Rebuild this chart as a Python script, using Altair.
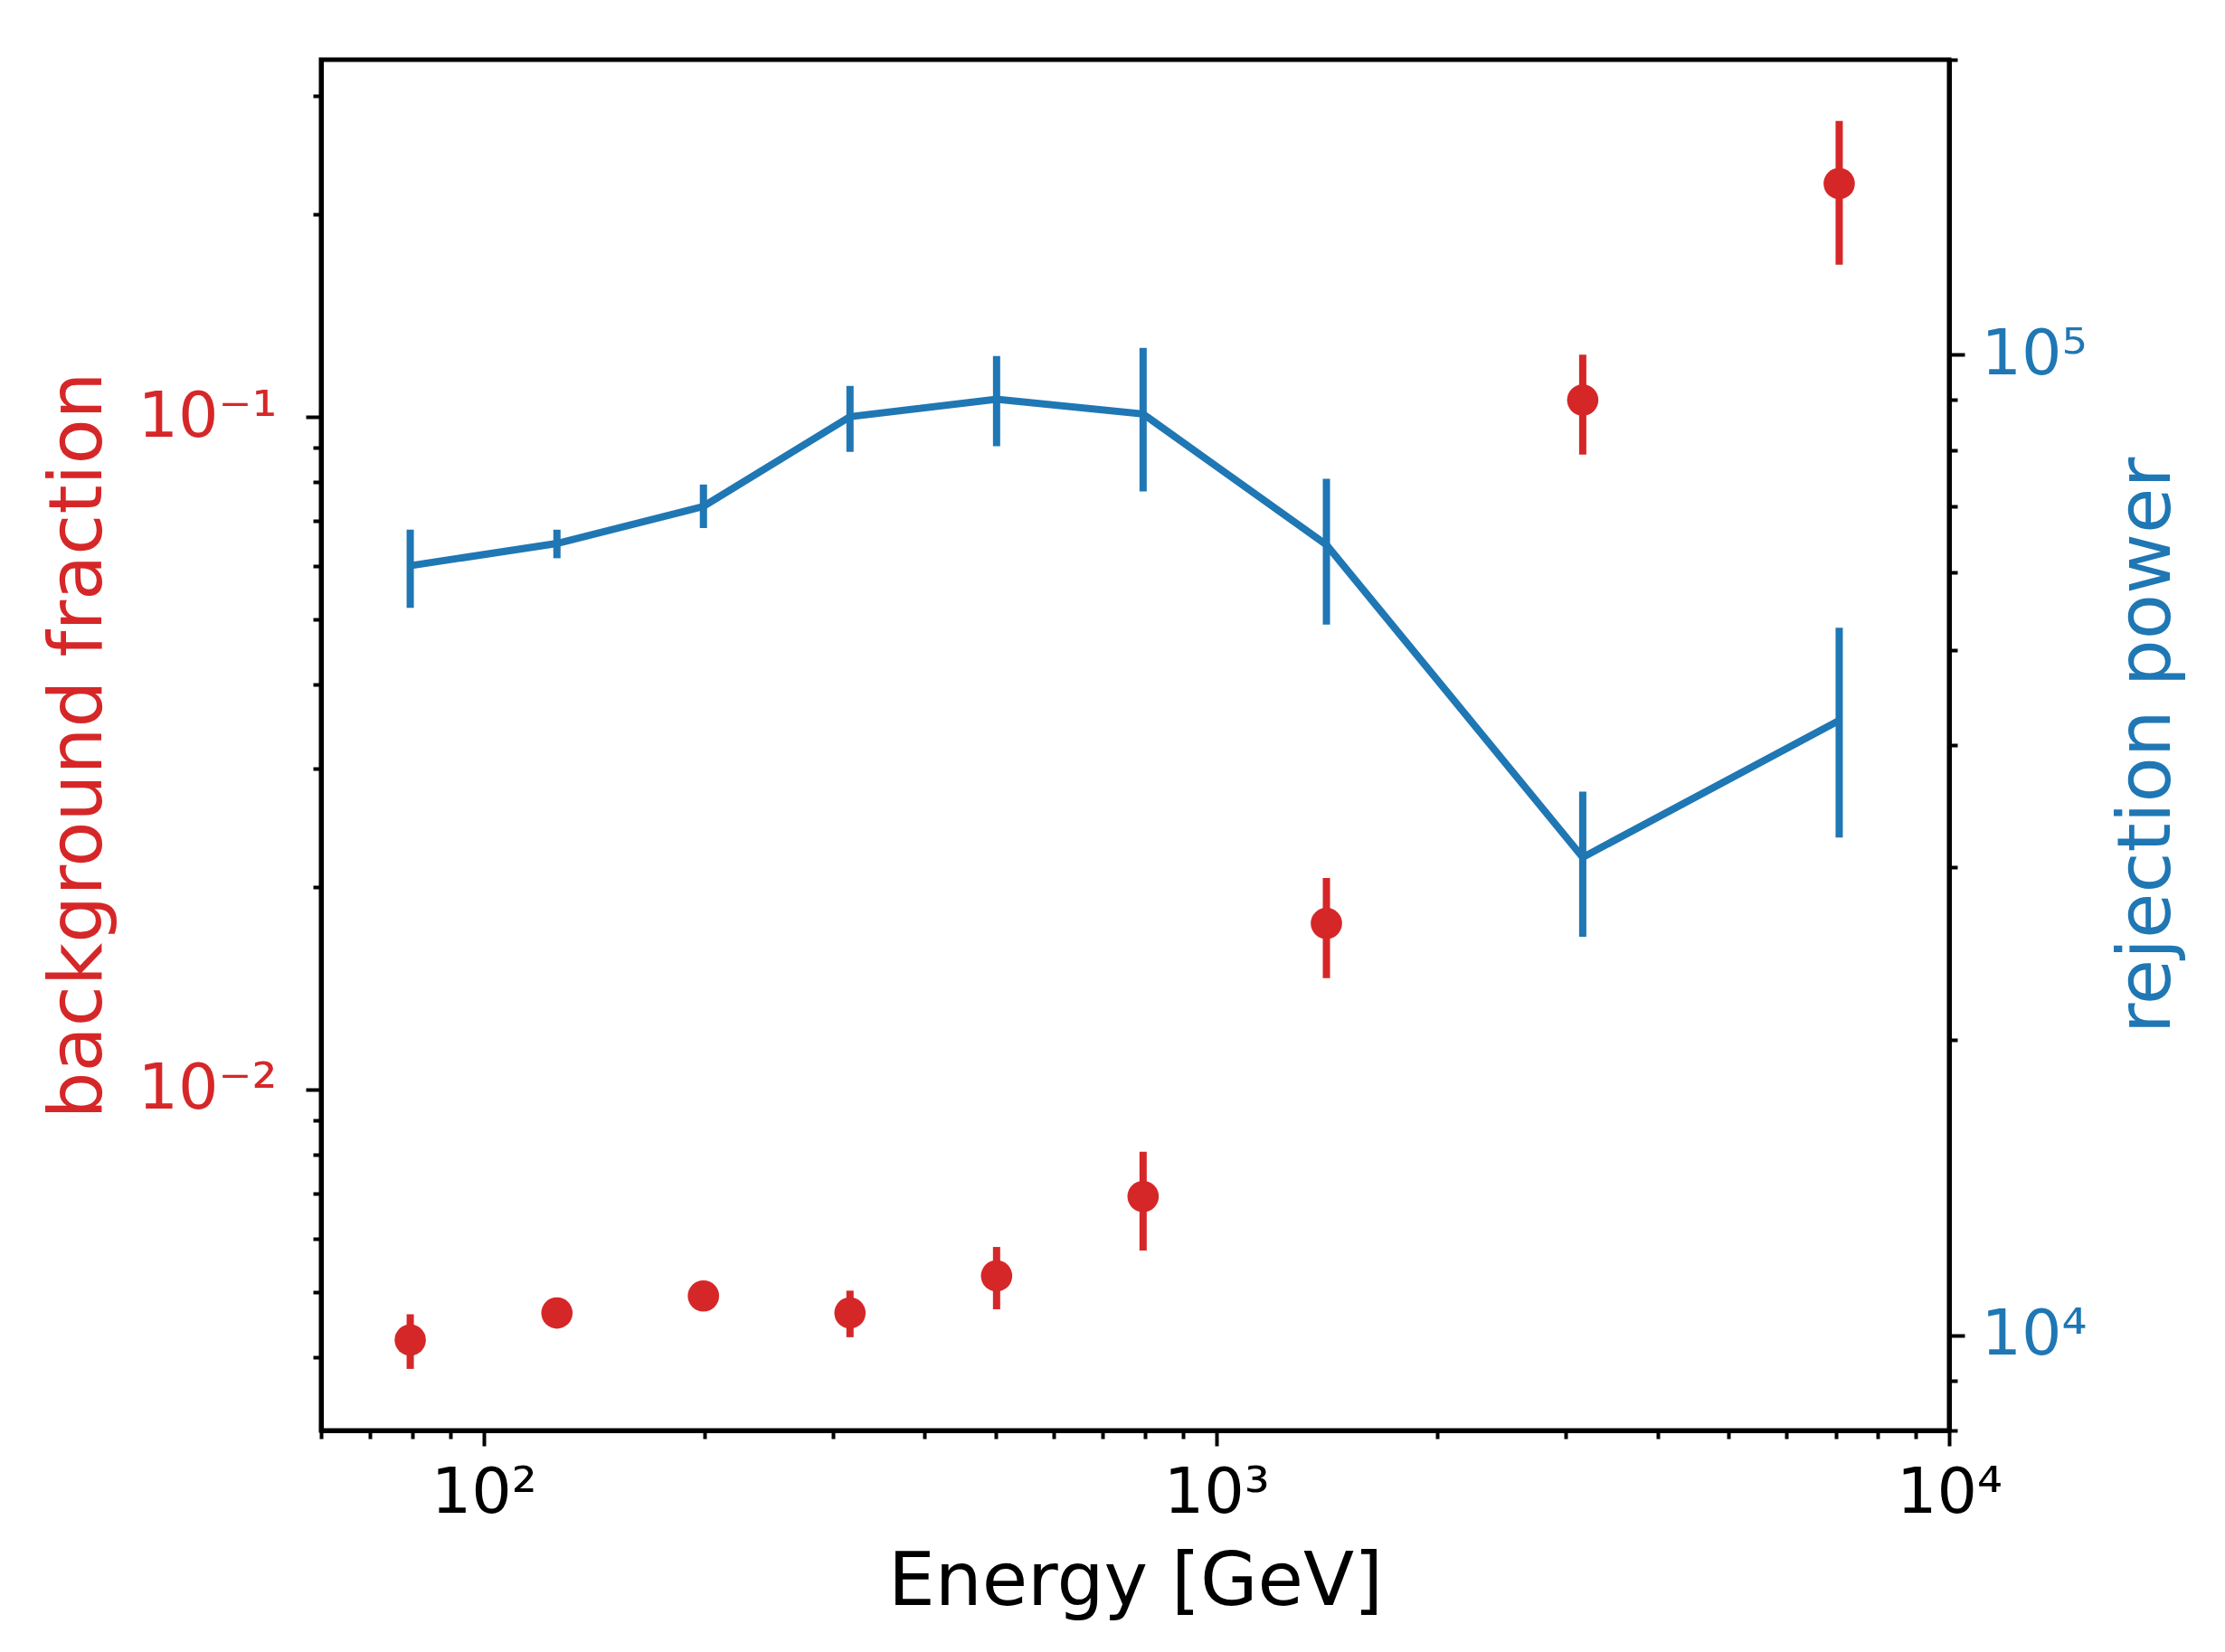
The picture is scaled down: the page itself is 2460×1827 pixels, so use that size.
import altair as alt
import pandas as pd

# Bin centres [GeV]
energy = [79.4, 125.9, 199.5, 316.2, 501.2, 794.3, 1413, 3162, 7079]

# Background fraction (left axis) with error bar ends
bkg_fraction = [0.00424, 0.00465, 0.00493, 0.00465, 0.00528, 0.00693, 0.01766, 0.1060, 0.2224]
bkg_low = [0.00384, 0.00456, 0.00484, 0.00428, 0.00471, 0.00576, 0.01464, 0.0879, 0.1685]
bkg_high = [0.00463, 0.00474, 0.00502, 0.00502, 0.00583, 0.00808, 0.02062, 0.1238, 0.2756]

# Rejection power (right axis) with error bar ends
rejection = [60950, 64220, 70060, 86490, 90100, 87030, 64020, 30730, 42390]
rej_low = [55210, 62030, 66580, 79630, 80700, 72580, 53090, 25500, 32190]
rej_high = [66330, 66330, 73750, 92970, 99700, 101650, 74740, 35850, 52700]

# Axis ticks
x_major = [100, 1000, 10000]
x_major_labels = ['10²', '10³', '10⁴']
x_minor = [60, 70, 80, 90, 200, 300, 400, 500, 600, 700, 800, 900,
           2000, 3000, 4000, 5000, 6000, 7000, 8000, 9000]
left_major = [0.01, 0.1]
left_major_labels = ['10⁻²', '10⁻¹']
left_minor = [0.004, 0.005, 0.006, 0.007, 0.008, 0.009,
              0.02, 0.03, 0.04, 0.05, 0.06, 0.07, 0.08, 0.09, 0.2, 0.3]
right_major = [10000, 100000]
right_major_labels = ['10⁴', '10⁵']
right_minor = [8000, 9000, 20000, 30000, 40000, 50000, 60000, 70000, 80000, 90000, 200000]

RED = '#d62728'
BLUE = '#1f77b4'
FONT = 'DejaVu Sans'

df = pd.DataFrame({
    'energy': energy,
    'bkg': bkg_fraction, 'bkg_low': bkg_low, 'bkg_high': bkg_high,
    'rej': rejection, 'rej_low': rej_low, 'rej_high': rej_high,
})


def label_expr(values, labels):
    expr = "''"
    for v, l in zip(reversed(values), reversed(labels)):
        expr = "datum.value == %r ? '%s' : %s" % (v, l, expr)
    return expr


def tick_size(major):
    return {'condition': {'test': 'indexof(%r, datum.value) >= 0' % major, 'value': 17},
            'value': 9}


common = dict(grid=False, labelOverlap=False, labelFlush=False, tickWidth=4,
              domainWidth=5, domainColor='black', tickColor='black',
              labelFont=FONT, titleFont=FONT, labelFontSize=70, titleFontSize=82,
              titleFontWeight='normal')

x_enc = alt.X('energy:Q',
              scale=alt.Scale(type='log', domain=[60, 10000], nice=False, zero=False),
              axis=alt.Axis(values=x_major + x_minor, labelExpr=label_expr(x_major, x_major_labels),
                            tickSize=tick_size(x_major), title='Energy [GeV]',
                            labelPadding=18, labelColor='black', titleColor='black',
                            titleY=192, titleBaseline='alphabetic', **common))

left_scale = alt.Scale(type='log', domain=[0.00311, 0.340], nice=False, zero=False)
left_axis = alt.Axis(values=left_major + left_minor, labelExpr=label_expr(left_major, left_major_labels),
                     tickSize=tick_size(left_major), title='background fraction', orient='left',
                     labelPadding=32, labelColor=RED, titleColor=RED,
                     titleX=-244, titleY=758, titleAngle=270, titleAlign='center',
                     titleBaseline='alphabetic', **common)

right_scale = alt.Scale(type='log', domain=[8000, 200000], nice=False, zero=False)
right_axis = alt.Axis(values=right_major + right_minor, labelExpr=label_expr(right_major, right_major_labels),
                      tickSize=tick_size(right_major), title='rejection power', orient='right',
                      labelPadding=18, labelColor=BLUE, titleColor=BLUE,
                      titleX=243, titleY=758, titleAngle=270, titleAlign='center',
                      titleBaseline='alphabetic', **common)

base = alt.Chart(df)

red_bars = base.mark_rule(color=RED, strokeWidth=8).encode(
    x=x_enc,
    y=alt.Y('bkg_low:Q', scale=left_scale, axis=left_axis),
    y2='bkg_high:Q',
)
red_points = base.mark_circle(color=RED, size=1200, opacity=1).encode(
    x=x_enc,
    y=alt.Y('bkg:Q', scale=left_scale, axis=left_axis),
)

blue_line = base.mark_line(color=BLUE, strokeWidth=8).encode(
    x=x_enc,
    y=alt.Y('rej:Q', scale=right_scale, axis=right_axis),
)
blue_bars = base.mark_rule(color=BLUE, strokeWidth=8).encode(
    x=x_enc,
    y=alt.Y('rej_low:Q', scale=right_scale, axis=right_axis),
    y2='rej_high:Q',
)

left_layer = alt.layer(red_bars, red_points)
right_layer = alt.layer(blue_line, blue_bars)

chart = alt.layer(left_layer, right_layer).resolve_scale(y='independent').properties(
    width=1800,
    height=1516,
    autosize=alt.AutoSizeParams(type='none'),
    padding={'left': 347, 'top': 58, 'right': 290, 'bottom': 230},
    background='white',
).configure_view(stroke='black', strokeWidth=5)

chart.save('out.html', embed_options={'renderer': 'svg', 'actions': False})
